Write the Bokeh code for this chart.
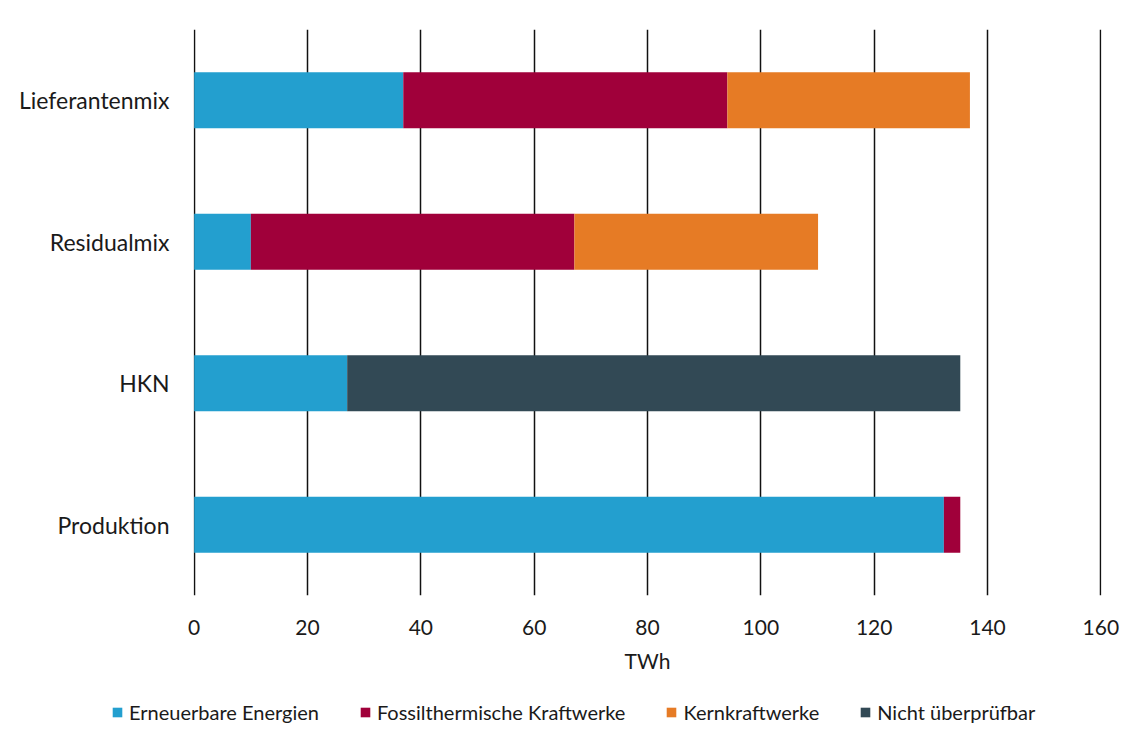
from bokeh.plotting import figure
from bokeh.models import FactorRange, Range1d, Legend, LegendItem, FixedTicker, ColumnDataSource
from bokeh.layouts import column, row
from bokeh.embed import file_html
from bokeh.resources import INLINE

categories = ["Produktion", "HKN", "Residualmix", "Lieferantenmix"]
series = ["Erneuerbare Energien", "Fossilthermische Kraftwerke", "Kernkraftwerke", "Nicht überprüfbar"]
erneuerbar = [132.3, 27.0, 10.0, 36.9]
fossil = [2.9, 0.0, 57.1, 57.2]
kern = [0.0, 0.0, 43.0, 42.8]
nicht = [0.0, 108.2, 0.0, 0.0]
x_ticks = [0, 20, 40, 60, 80, 100, 120, 140, 160]
colors = ["#239fcf", "#a0003a", "#e67b25", "#324955"]

FONT = "Lato"

src = ColumnDataSource(dict(cat=categories, e=erneuerbar, f=fossil, k=kern, n=nicht))

p = figure(width=1120, height=685, y_range=FactorRange(*categories),
           x_range=Range1d(-0.12, 160.12), output_backend="svg", toolbar_location=None,
           min_border_left=193, min_border_right=19, min_border_top=29, min_border_bottom=90)

rs = p.hbar_stack(["e", "f", "k", "n"], y="cat", height=0.395, color=colors,
                  source=src, line_width=0)

p.outline_line_color = None
p.background_fill_color = "white"
p.border_fill_color = "white"

p.xaxis.ticker = FixedTicker(ticks=x_ticks)
p.xaxis.axis_line_color = None
p.xaxis.major_tick_line_color = None
p.xaxis.minor_tick_line_color = None
p.xaxis.major_label_text_font = FONT
p.xaxis.major_label_text_font_size = "21px"
p.xaxis.major_label_text_color = "#1a1a1a"
p.xaxis.major_label_standoff = 18
p.xaxis.axis_label = "TWh"
p.xaxis.axis_label_text_font = FONT
p.xaxis.axis_label_text_font_style = "normal"
p.xaxis.axis_label_text_font_size = "21px"
p.xaxis.axis_label_text_color = "#1a1a1a"
p.xaxis.axis_label_standoff = 10

p.yaxis.axis_line_color = None
p.yaxis.major_tick_line_color = None
p.yaxis.minor_tick_line_color = None
p.yaxis.major_label_text_font = FONT
p.yaxis.major_label_text_font_size = "23px"
p.yaxis.major_label_text_color = "#1a1a1a"
p.yaxis.major_label_standoff = 18

p.xgrid.ticker = FixedTicker(ticks=x_ticks)
p.xgrid.grid_line_color = "#111111"
p.xgrid.grid_line_width = 1.5
p.ygrid.grid_line_color = None

# legend figure
lg = figure(width=1120, height=43, x_range=Range1d(0, 1), y_range=Range1d(0, 1),
            output_backend="svg", toolbar_location=None,
            min_border_left=0, min_border_right=0, min_border_top=0, min_border_bottom=0)
lg.axis.visible = False
lg.grid.visible = False
lg.outline_line_color = None
lg.border_fill_color = "white"
dummies = []
for c in colors:
    dummies.append(lg.hbar(y=[-10], left=[0], right=[0.1], height=0.1, color=c, line_width=0))

legend = Legend(items=[LegendItem(label=s, renderers=[r]) for s, r in zip(series, dummies)],
                orientation="horizontal", location=(111, 4))
legend.label_text_font = FONT
legend.label_text_font_size = "20px"
legend.label_text_color = "#1a1a1a"
legend.glyph_width = 12
legend.glyph_height = 12
legend.label_standoff = 6
legend.spacing = 40
legend.border_line_color = None
legend.background_fill_alpha = 0
legend.margin = 0
legend.padding = 4
lg.add_layout(legend, "center")

layout = column(p, row(lg, spacing=0), spacing=0)
open("out.html", "w").write(file_html(layout, INLINE))
